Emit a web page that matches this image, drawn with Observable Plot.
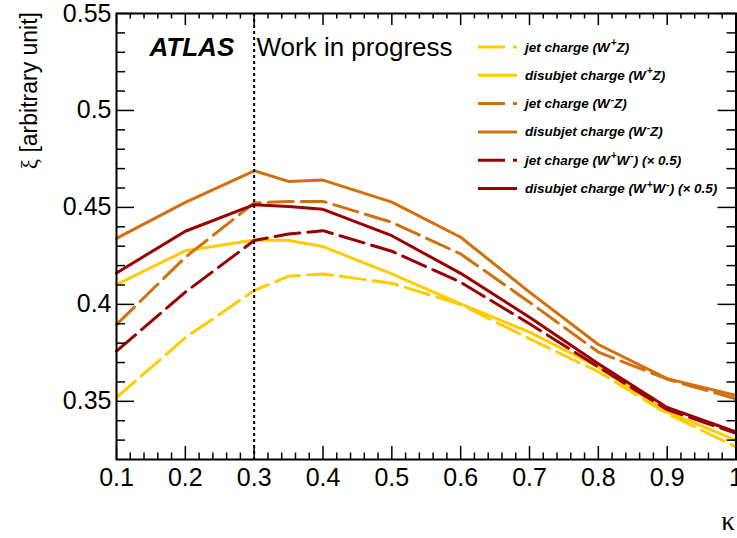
<!DOCTYPE html>
<html>
<head>
<meta charset="utf-8">
<script src="https://cdn.jsdelivr.net/npm/d3@7"></script>
<script src="https://cdn.jsdelivr.net/npm/@observablehq/plot@0.6"></script>
<style>
  html, body { margin: 0; padding: 0; background: #fff; }
  #chart svg { display: block; font-family: "Liberation Sans", Arial, Helvetica, sans-serif; color: #000; }
</style>
</head>
<body>
<div id="chart"></div>
<script>
// kappa values at which the charge observables were evaluated
const kappa = [0.1, 0.2, 0.3, 0.35, 0.4, 0.5, 0.6, 0.7, 0.8, 0.9, 1.0];

// xi for each charge definition and process
const jetWpZ      = [0.3519, 0.3828, 0.4071, 0.4145, 0.4157, 0.4109, 0.3999, 0.3823, 0.3653, 0.3437, 0.3265];
const disubjetWpZ = [0.4102, 0.4277, 0.4332, 0.4329, 0.4298, 0.4157, 0.4003, 0.3857, 0.3677, 0.3445, 0.3300];
const jetWmZ      = [0.3896, 0.4243, 0.4523, 0.4531, 0.4531, 0.4423, 0.4260, 0.4011, 0.3754, 0.3614, 0.3513];
const disubjetWmZ = [0.4340, 0.4526, 0.4689, 0.4634, 0.4641, 0.4527, 0.4346, 0.4063, 0.3793, 0.3617, 0.3530];
const jetWW       = [0.3759, 0.4063, 0.4329, 0.4363, 0.4380, 0.4274, 0.4114, 0.3900, 0.3677, 0.3457, 0.3335];
const disubjetWW  = [0.4162, 0.4377, 0.4514, 0.4505, 0.4490, 0.4354, 0.4160, 0.3934, 0.3694, 0.3468, 0.3342];

// legend entries (ROOT-style ^{} superscripts)
const legendLabels = [
  "jet charge (W^{+}Z)",
  "disubjet charge (W^{+}Z)",
  "jet charge (W^{-}Z)",
  "disubjet charge (W^{-}Z)",
  "jet charge (W^{+}W^{-}) (× 0.5)",
  "disubjet charge (W^{+}W^{-}) (× 0.5)"
];

// axis ticks
const xMajor = [0.1, 0.2, 0.3, 0.4, 0.5, 0.6, 0.7, 0.8, 0.9, 1.0];
const xMinor = d3.range(12, 100, 2).filter(v => v % 10 !== 0).map(v => v / 100);
const yMajor = [0.35, 0.4, 0.45, 0.5, 0.55];
const yMinor = d3.range(33, 55, 1).filter(v => v % 5 !== 0).map(v => v / 100);
const kappaCut = 0.3;

const yellow = "#FFCC00", orange = "#D2700E", darkRed = "#990000";
const dashed = "25,8";

const series = [
  {values: jetWpZ,      color: yellow,  dash: dashed},
  {values: disubjetWpZ, color: yellow,  dash: null},
  {values: jetWmZ,      color: orange,  dash: dashed},
  {values: disubjetWmZ, color: orange,  dash: null},
  {values: jetWW,       color: darkRed, dash: dashed},
  {values: disubjetWW,  color: darkRed, dash: null}
];

// layout
const W = 737, H = 538;
const mL = 116, mR = 1.5, mT = 13, mB = 79;
const frameW = W - mL - mR, frameH = H - mT - mB;

const lineMarks = series.map(s =>
  Plot.line(kappa.map((k, i) => ({kappa: k, xi: s.values[i]})), {
    x: "kappa", y: "xi",
    stroke: s.color, strokeWidth: 3,
    strokeDasharray: s.dash || undefined,
    strokeLinejoin: "round"
  })
);

const fmtX = d => d === 1 ? "1" : d3.format(".1f")(d);
const fmtY = d => d3.format("")(+d.toFixed(2));

// ROOT-style inward ticks: full-frame rules inset down to the tick length
const tickStyle = {stroke: "#000", strokeWidth: 1.5};
const ticksBottom = (values, len) => Plot.ruleX(values, {x: d => d, insetTop: frameH - len, ...tickStyle});
const ticksTop    = (values, len) => Plot.ruleX(values, {x: d => d, insetBottom: frameH - len, ...tickStyle});
const ticksLeft   = (values, len) => Plot.ruleY(values, {y: d => d, insetRight: frameW - len, ...tickStyle});
const ticksRight  = (values, len) => Plot.ruleY(values, {y: d => d, insetLeft: frameW - len, ...tickStyle});

const chart = Plot.plot({
  width: W,
  height: H,
  marginLeft: mL,
  marginRight: mR,
  marginTop: mT,
  marginBottom: mB,
  x: {domain: [0.1, 1.0], label: null},
  y: {domain: [0.32, 0.55], label: null},
  marks: [
    // tick labels
    Plot.axisX(xMajor, {anchor: "bottom", tickSize: 0, tickPadding: 9, tickFormat: fmtX, label: null, fontSize: 25}),
    Plot.axisY(yMajor, {anchor: "left", tickSize: 0, tickPadding: 5, tickFormat: fmtY, label: null, fontSize: 25}),
    // the curves
    ...lineMarks,
    // chosen kappa
    Plot.ruleX([kappaCut], {stroke: "#000", strokeWidth: 2, strokeDasharray: "3,3"}),
    // ticks on all four sides
    ticksBottom(xMajor, 13), ticksBottom(xMinor, 6.5),
    ticksTop(xMajor, 12), ticksTop(xMinor, 5.5),
    ticksLeft(yMajor, 18), ticksLeft(yMinor, 9),
    ticksRight(yMajor, 18), ticksRight(yMinor, 9),
    Plot.frame({stroke: "#000", strokeWidth: 2}),
    Plot.text(["ATLAS"], {text: d => d, frameAnchor: "top-left", dx: 33, dy: 34, lineAnchor: "middle",
      textAnchor: "start", fontSize: 26, fontWeight: "bold", fontStyle: "italic", fill: "#000"}),
    Plot.text(["Work in progress"], {text: d => d, frameAnchor: "top-left", dx: 140, dy: 34, lineAnchor: "middle",
      textAnchor: "start", fontSize: 26, fill: "#000"})
  ]
});

document.getElementById("chart").appendChild(chart);

const svg = d3.select(chart);

// y-axis title
const yTitle = svg.append("text")
  .attr("transform", "translate(37,12) rotate(-90)")
  .attr("text-anchor", "end")
  .attr("font-size", 23)
  .attr("fill", "#000");
yTitle.append("tspan").attr("font-family", "'Liberation Serif', 'DejaVu Serif', serif").text("ξ");
yTitle.append("tspan").text(" [arbitrary unit]");

// x-axis title
svg.append("text")
  .attr("x", 728).attr("y", 530)
  .attr("text-anchor", "middle")
  .attr("font-family", "'Liberation Serif', 'DejaVu Serif', serif")
  .attr("font-size", 27)
  .attr("fill", "#000")
  .text("κ");

// legend
const legend = svg.append("g").attr("text-anchor", "start");
legendLabels.forEach((label, i) => {
  const cy = 47 + i * 28.3;
  const s = series[i];
  legend.append("line")
    .attr("x1", 478).attr("x2", 517).attr("y1", cy).attr("y2", cy)
    .attr("stroke", s.color).attr("stroke-width", 3)
    .attr("stroke-dasharray", s.dash ? "27,8" : null);
  const t = legend.append("text")
    .attr("x", 525).attr("y", cy + 4.5)
    .attr("text-anchor", "start")
    .attr("font-size", 13.5).attr("font-weight", "bold").attr("font-style", "italic")
    .attr("fill", "#000");
  // split "a^{b}c" into normal and raised pieces
  const parts = label.split(/(\^\{[^}]*\})/).filter(p => p.length);
  let raised = false;
  parts.forEach(p => {
    const m = p.match(/^\^\{([^}]*)\}$/);
    if (m) {
      t.append("tspan").attr("dx", 1).attr("dy", -5.5).attr("font-size", 10).text(m[1]);
      raised = true;
    } else {
      const sp = t.append("tspan").text(p);
      if (raised) { sp.attr("dy", 5.5); raised = false; }
    }
  });
});
</script>
</body>
</html>
